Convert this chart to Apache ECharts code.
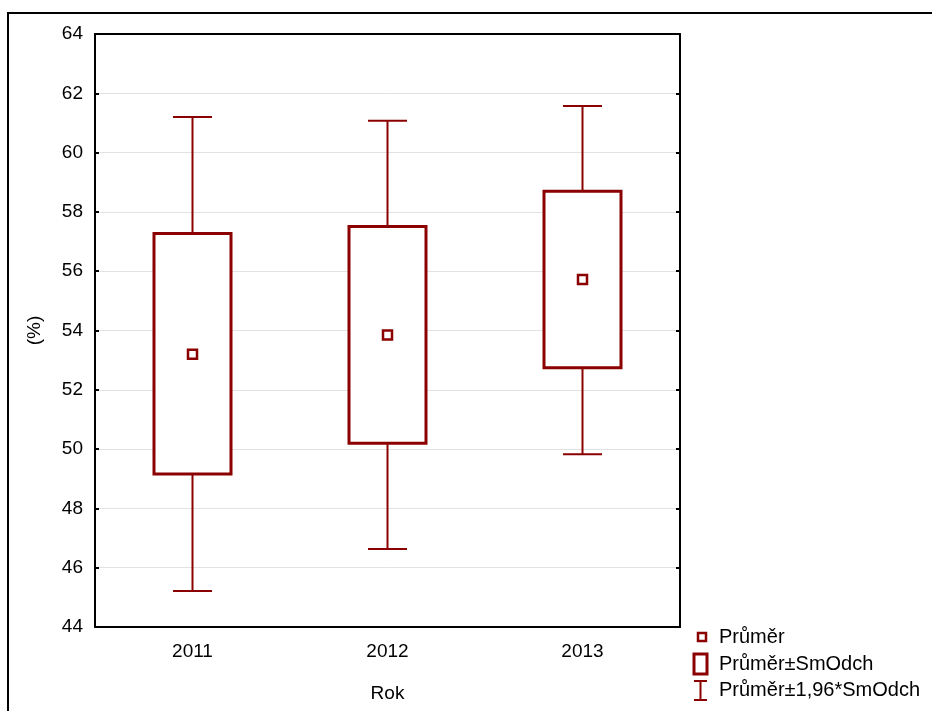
<!DOCTYPE html>
<html>
<head>
<meta charset="utf-8">
<script src="https://cdn.jsdelivr.net/npm/echarts@6/dist/echarts.min.js"></script>
<style>
html,body{margin:0;padding:0;background:#fff;}
#c{width:932px;height:711px;}
</style>
</head>
<body>
<div id="c"></div>
<script>
const categories = ['2011', '2012', '2013'];
const meanValues = [53.2, 53.85, 55.72];
const sdLow = [49.16, 50.2, 52.74];
const sdHigh = [57.27, 57.51, 58.70];
const ciLow = [45.21, 46.63, 49.83];
const ciHigh = [61.2, 61.07, 61.57];
const yTicks = [44, 46, 48, 50, 52, 54, 56, 58, 60, 62, 64];

const RED = '#8B0000';
const FONT = 'Liberation Sans, Arial, sans-serif';

const chart = echarts.init(document.getElementById('c'), null, {renderer: 'canvas'});

const boxData = categories.map((c, i) => [i, sdLow[i], sdHigh[i], ciLow[i], ciHigh[i]]);

const option = {
  animation: false,
  backgroundColor: '#fff',
  grid: {left: 95, top: 34, width: 585, height: 593, containLabel: false},
  xAxis: [{
    type: 'category',
    data: categories,
    boundaryGap: true,
    position: 'bottom',
    axisLine: {lineStyle: {color: '#000', width: 2}},
    axisTick: {inside: true, alignWithLabel: true, length: 5, lineStyle: {color: '#000', width: 2}},
    axisLabel: {color: '#000', fontSize: 19, fontFamily: FONT, margin: 15},
    name: 'Rok',
    nameLocation: 'middle',
    nameGap: 57,
    nameTextStyle: {color: '#000', fontSize: 19, fontFamily: FONT},
    splitLine: {show: false}
  }, {
    type: 'category',
    data: categories,
    boundaryGap: true,
    position: 'top',
    axisLine: {lineStyle: {color: '#000', width: 2}},
    axisTick: {inside: true, alignWithLabel: true, length: 5, lineStyle: {color: '#000', width: 2}},
    axisLabel: {show: false},
    splitLine: {show: false}
  }],
  yAxis: [{
    type: 'value',
    min: 44, max: 64, interval: 2,
    position: 'left',
    axisLine: {show: true, lineStyle: {color: '#000', width: 2}},
    axisTick: {show: true, inside: true, length: 4, lineStyle: {color: '#000', width: 2}},
    axisLabel: {color: '#000', fontSize: 19, fontFamily: FONT, margin: 12,
      formatter: v => yTicks.includes(v) ? String(v) : ''},
    splitLine: {show: true, lineStyle: {color: '#e2e2e2', width: 1}},
    name: '(%)',
    nameLocation: 'middle',
    nameRotate: 90,
    nameGap: 51,
    nameTextStyle: {color: '#000', fontSize: 19, fontFamily: FONT}
  }, {
    type: 'value',
    min: 44, max: 64, interval: 2,
    position: 'right',
    axisLine: {show: true, lineStyle: {color: '#000', width: 2}},
    axisTick: {show: true, inside: true, length: 4, lineStyle: {color: '#000', width: 2}},
    axisLabel: {show: false},
    splitLine: {show: false}
  }],
  series: [{
    type: 'custom',
    xAxisIndex: 0, yAxisIndex: 0,
    data: boxData,
    renderItem: function (params, api) {
      const x = api.value(0);
      const pLo = api.coord([x, api.value(1)]);
      const pHi = api.coord([x, api.value(2)]);
      const wLo = api.coord([x, api.value(3)]);
      const wHi = api.coord([x, api.value(4)]);
      const cx = pLo[0];
      const bw = 77, cw = 39;
      const wStyle = {stroke: RED, lineWidth: 2, fill: null};
      return {
        type: 'group',
        children: [
          {type: 'line', shape: {x1: cx, y1: pHi[1], x2: cx, y2: wHi[1]}, style: wStyle},
          {type: 'line', shape: {x1: cx - cw / 2, y1: wHi[1], x2: cx + cw / 2, y2: wHi[1]}, style: wStyle},
          {type: 'line', shape: {x1: cx, y1: pLo[1], x2: cx, y2: wLo[1]}, style: wStyle},
          {type: 'line', shape: {x1: cx - cw / 2, y1: wLo[1], x2: cx + cw / 2, y2: wLo[1]}, style: wStyle},
          {type: 'rect', shape: {x: cx - bw / 2, y: pHi[1], width: bw, height: pLo[1] - pHi[1]},
            style: {stroke: RED, lineWidth: 3, fill: '#fff'}}
        ]
      };
    },
    z: 3
  }, {
    type: 'scatter',
    xAxisIndex: 0, yAxisIndex: 0,
    data: meanValues.map((v, i) => [i, v]),
    symbol: 'rect',
    symbolSize: 9,
    itemStyle: {color: '#fff', borderColor: RED, borderWidth: 2.5, opacity: 1},
    z: 5
  }],
  graphic: [
    {type: 'rect', shape: {x: 8, y: 13, width: 1000, height: 800}, style: {stroke: '#000', lineWidth: 2, fill: null}, silent: true, z: 0},
    {type: 'rect', shape: {x: 698, y: 633, width: 8, height: 8}, style: {stroke: RED, lineWidth: 2.5, fill: '#fff'}, z: 10},
    {type: 'text', left: 719, top: 627, style: {text: 'Průměr', fill: '#000', font: '20px ' + FONT}, z: 10},
    {type: 'rect', shape: {x: 694, y: 654, width: 13, height: 20}, style: {stroke: RED, lineWidth: 3, fill: '#fff'}, z: 10},
    {type: 'text', left: 719, top: 654, style: {text: 'Průměr±SmOdch', fill: '#000', font: '20px ' + FONT}, z: 10},
    {type: 'line', shape: {x1: 694, y1: 681, x2: 707, y2: 681}, style: {stroke: RED, lineWidth: 2}, z: 10},
    {type: 'line', shape: {x1: 700.5, y1: 681, x2: 700.5, y2: 700}, style: {stroke: RED, lineWidth: 2}, z: 10},
    {type: 'line', shape: {x1: 694, y1: 700, x2: 707, y2: 700}, style: {stroke: RED, lineWidth: 2}, z: 10},
    {type: 'text', left: 719, top: 680, style: {text: 'Průměr±1,96*SmOdch', fill: '#000', font: '20px ' + FONT}, z: 10}
  ]
};
chart.setOption(option);
</script>
</body>
</html>
